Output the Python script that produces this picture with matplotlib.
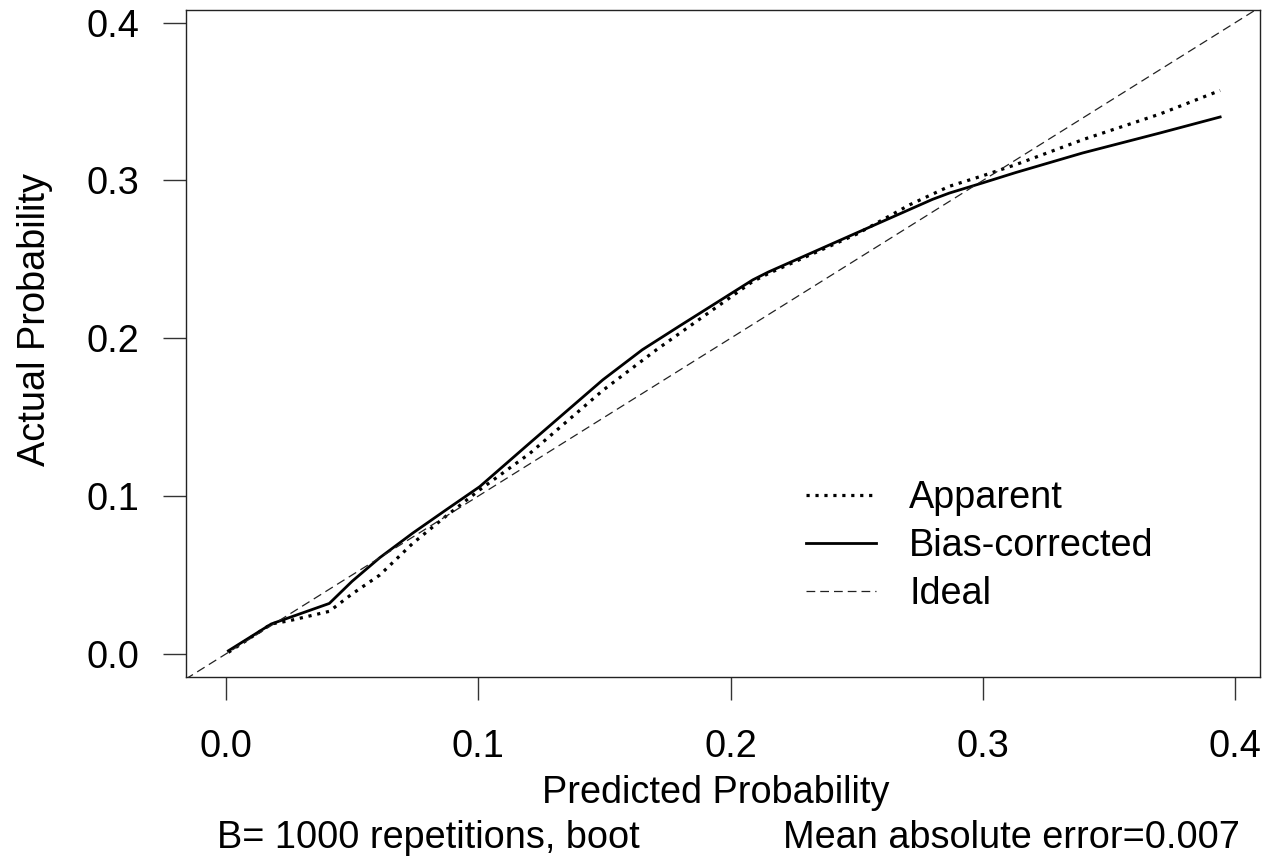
import matplotlib
matplotlib.use("Agg")
import matplotlib.pyplot as plt

plt.rcParams["font.family"] = ["Liberation Sans", "DejaVu Sans"]

# values
pred_apparent = [0.001, 0.018, 0.025, 0.041, 0.050, 0.061, 0.074, 0.087, 0.1006,
                 0.1204, 0.1494, 0.1706, 0.2088, 0.215, 0.25, 0.271, 0.2867, 0.30,
                 0.313, 0.3395, 0.37, 0.394]
act_apparent = [0.001, 0.019, 0.021, 0.027, 0.038, 0.050, 0.070, 0.087, 0.104,
                0.127, 0.167, 0.1927, 0.236, 0.241, 0.266, 0.2846, 0.2963, 0.303,
                0.310, 0.3258, 0.342, 0.357]

pred_bias = [0.001, 0.018, 0.041, 0.050, 0.061, 0.074, 0.087, 0.1006, 0.1204,
             0.1494, 0.165, 0.18, 0.2088, 0.215, 0.25, 0.28, 0.2867, 0.30, 0.313,
             0.3395, 0.37, 0.394]
act_bias = [0.002, 0.019, 0.032, 0.046, 0.061, 0.0765, 0.091, 0.106, 0.1336,
            0.1737, 0.1927, 0.208, 0.237, 0.242, 0.2668, 0.288, 0.292, 0.2985, 0.305,
            0.3174, 0.330, 0.3402]

ticks = [0.0, 0.1, 0.2, 0.3, 0.4]
tick_labels = ["0.0", "0.1", "0.2", "0.3", "0.4"]
xlim = (-0.0158, 0.4098)
ylim = (-0.0146, 0.408)

fs = 27.3

fig = plt.figure(figsize=(12.73, 8.6), dpi=100)
ax = fig.add_axes([0.1461, 0.2128, 0.8437, 0.7756])

ax.plot(pred_apparent, act_apparent, color="black", lw=2.3,
        linestyle=(0, (1, 1.8)), label="Apparent")
ax.plot(pred_bias, act_bias, color="black", lw=2.0, label="Bias-corrected")
ax.plot([-1, 1], [-1, 1], color="#222222", lw=0.9, linestyle=(0, (7, 4)),
        label="Ideal")

ax.set_xlim(*xlim)
ax.set_ylim(*ylim)
ax.set_xticks(ticks)
ax.set_xticklabels(tick_labels)
ax.set_yticks(ticks)
ax.set_yticklabels(tick_labels)
ax.tick_params(axis="both", direction="out", length=16.5, width=1.0,
               labelsize=fs, color="#333333")
ax.tick_params(axis="x", pad=21)
ax.tick_params(axis="y", pad=17)
for sp in ax.spines.values():
    sp.set_linewidth(1.0)
    sp.set_color("#222222")

leg = ax.legend(loc="upper left", bbox_to_anchor=(0.577, 0.295), frameon=False,
                fontsize=fs, handlelength=1.85, handletextpad=0.88,
                labelspacing=0.32, borderpad=0, borderaxespad=0)

fig.text(716 / 1273, 1 - 793 / 860, "Predicted Probability", ha="center",
         va="center", fontsize=fs)
fig.text(35 / 1273, 1 - 320 / 860, "Actual Probability", ha="center",
         va="center", rotation=90, fontsize=fs)
fig.text(217 / 1273, 1 - 838 / 860, "B= 1000 repetitions, boot",
         ha="left", va="center", fontsize=fs)
fig.text(1240 / 1273, 1 - 838 / 860, "Mean absolute error=0.007",
         ha="right", va="center", fontsize=fs)

fig.savefig("out.png", dpi=100)
